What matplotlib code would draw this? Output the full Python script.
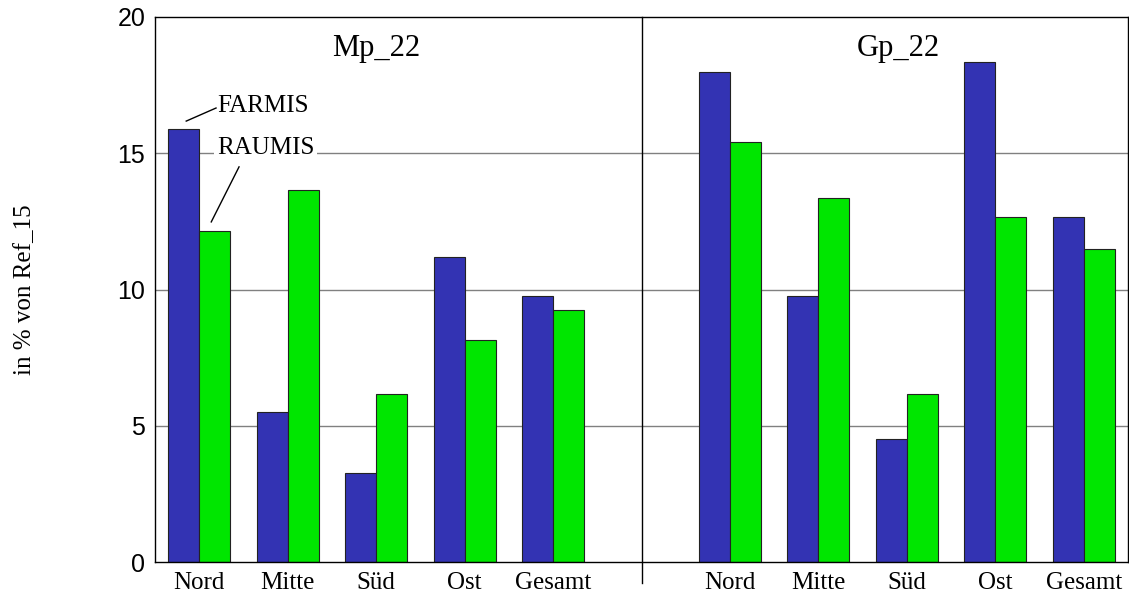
"""Bar chart: FARMIS vs RAUMIS change in % of Ref_15, scenarios Mp_22 and Gp_22."""

import numpy as np
import matplotlib
matplotlib.use("Agg")
import matplotlib.pyplot as plt

regions = ["Nord", "Mitte", "Süd", "Ost", "Gesamt"]
scenarios = ["Mp_22", "Gp_22"]
farmis_mp = [15.9, 5.5, 3.25, 11.2, 9.75]
raumis_mp = [12.15, 13.65, 6.15, 8.15, 9.25]
farmis_gp = [18.0, 9.75, 4.5, 18.35, 12.65]
raumis_gp = [15.4, 13.35, 6.15, 12.65, 11.5]
y_ticks = [0, 5, 10, 15, 20]

BLUE = "#3333b3"
GREEN = "#00e600"
SERIF = "Liberation Serif"
SANS = "Liberation Sans"

fig = plt.figure(figsize=(11.29, 5.92), dpi=100)
ax = fig.add_axes([155 / 1129, 30 / 592, 973 / 1129, 545 / 592])

width = 0.35
left_x = np.arange(len(regions))
right_x = left_x + len(regions) + 1

# grid behind the bars
for y in y_ticks[1:-1]:
    ax.axhline(y, color="#808080", linewidth=1.0, zorder=0)

for xs, f_vals, r_vals in [(left_x, farmis_mp, raumis_mp), (right_x, farmis_gp, raumis_gp)]:
    ax.bar(xs - width / 2, f_vals, width=width, color=BLUE, edgecolor="#222222",
           linewidth=0.8, zorder=2)
    ax.bar(xs + width / 2, r_vals, width=width, color=GREEN, edgecolor="#222222",
           linewidth=0.8, zorder=2)

# divider between the two scenarios
ax.plot([5, 5], [-0.77, 20], color="black", linewidth=1.0, clip_on=False, zorder=3)

ax.set_xlim(-0.5, 10.5)
ax.set_ylim(0, 20)
ax.set_yticks(y_ticks)
ax.set_yticklabels([str(v) for v in y_ticks], family=SANS, fontsize=18)
ax.set_xticks(list(left_x) + list(right_x))
ax.set_xticklabels(regions + regions, family=SERIF, fontsize=18)
ax.tick_params(axis="x", length=0, pad=7)
ax.tick_params(axis="y", length=0, pad=7)
for spine in ax.spines.values():
    spine.set_linewidth(1.0)
    spine.set_color("black")

ax.text(2.0, 18.85, scenarios[0], family=SERIF, fontsize=22, ha="center", va="center")
ax.text(7.9, 18.85, scenarios[1], family=SERIF, fontsize=22, ha="center", va="center")

# series labels pointing at the first pair of bars
ax.text(0.2, 16.73, "FARMIS", family=SERIF, fontsize=18, ha="left", va="center", zorder=4)
ax.plot([-0.147, 0.19], [16.18, 16.66], color="black", linewidth=1.0, zorder=4)
ax.text(0.2, 15.19, "RAUMIS", family=SERIF, fontsize=18, ha="left", va="center", zorder=4,
        bbox=dict(facecolor="white", edgecolor="none", pad=2))
ax.plot([0.45, 0.136], [14.5, 12.48], color="black", linewidth=1.0, zorder=4)

fig.text(25 / 1129, 1 - 290 / 592, "in % von Ref_15", family=SERIF, fontsize=18,
         rotation=90, ha="center", va="center")

fig.savefig("out.png", dpi=100)
